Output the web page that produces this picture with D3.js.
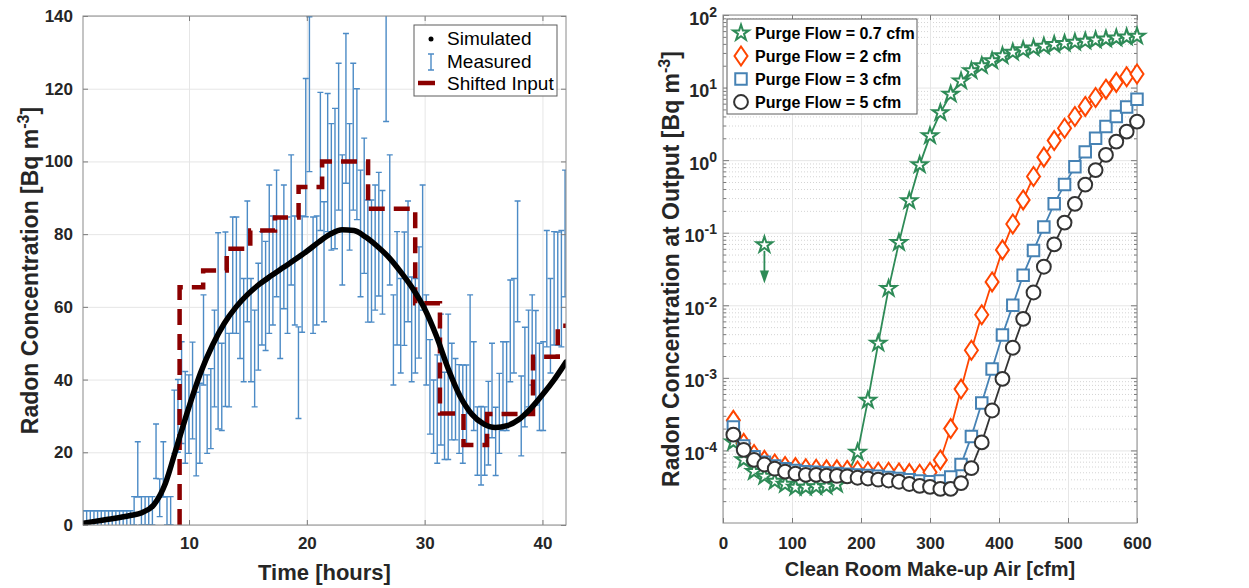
<!DOCTYPE html>
<html>
<head>
<meta charset="utf-8">
<script src="https://cdn.jsdelivr.net/npm/d3@7"></script>
<style>
  body { margin: 0; background: #fff; }
  svg { font-family: "Liberation Sans", Arial, Helvetica, sans-serif; }
  .axis text { font-size: 17px; font-weight: bold; fill: #262626; }
  .axis line { stroke: #7a7a7a; }
  .axis .domain { display: none; }
  .grid line { stroke: #e6e6e6; }
  .grid .domain { display: none; }
  .grid-minor line { stroke: #d4d4d4; stroke-dasharray: 1,2; }
  .grid-minor .domain { display: none; }
</style>
</head>
<body>
<div id="chart"></div>
<script>
// ---- left panel: radon time series ----
const simHours = [1, 2, 3, 4, 5, 6, 7, 8, 9, 10, 11, 12, 13, 14, 15, 16, 17, 18, 19, 20, 21,
  22, 23, 24, 25, 26, 27, 28, 29, 30, 31, 32, 33, 34, 35, 36, 37, 38, 39, 40, 41, 42];
const simValues = [0.5, 1.0, 1.5, 2.0, 2.6, 3.4, 5.5, 11.5, 22, 32.5, 42, 49.5, 55.5, 60, 63.5,
  66.3, 68.6, 70.8, 73, 75.3, 77.8, 80, 81.2, 81, 79.2, 76.6, 73.5, 69.5, 65, 59.5, 52, 43,
  35.5, 30.5, 27.8, 26.8, 27.3, 29, 32, 35.8, 40, 44.8];

// measurements every ~0.31 h starting at hour 1
const measStart = 1;
const measStep = 0.31;
const measValues = [
  0, 0, 0, 0, 0, 0, 0, 0, 0, 0,
  0, 0, 0, 0, 3.9, 15.3, 3.9, 3.9, 3.9, 3.9,
  20.3, 7.5, 15.3, 3.9, 3.9, 28.4, 30, 36.4, 29.6, 30.5,
  37, 25, 28, 50.9, 30.5, 32, 45.8, 53.4, 38, 56.6,
  42.6, 68.7, 68.7, 60.9, 53.6, 72.5, 53.6, 45.8, 57.3, 65.1,
  63, 73.1, 70, 80.2, 65.3, 76.5, 68.7, 83.9, 70, 41.9,
  69, 103.8, 118.5, 68.7, 70, 100, 72.4, 99.7, 93, 95.3,
  106.8, 83.9, 114.6, 93, 106.8, 102, 80.2, 87.8, 72.6, 72.6,
  76.3, 80, 75, 131, 83.9, 50.9, 65.1, 54.8, 65, 72.5,
  53.8, 54.8, 61.2, 76.3, 50.9, 38, 29.8, 31.9, 40, 30,
  38, 36.7, 34.6, 31.9, 30.5, 33.2, 47, 38.2, 23.1, 21.8,
  23.1, 28, 37, 23, 30.7, 38.2, 38.2, 53.4, 54.8, 72.5,
  30, 40.7, 45.8, 50.9, 46, 38, 38.2, 65, 54.8, 65.1,
  65, 65, 80.2];
const measErrors = [
  3.9, 3.9, 3.9, 3.9, 3.9, 3.9, 3.9, 3.9, 3.9, 3.9,
  3.9, 3.9, 3.9, 3.9, 3.9, 7.6, 3.9, 3.9, 3.9, 3.9,
  7.5, 5.2, 7.6, 3.9, 3.9, 8.7, 10, 14, 12.6, 10.8,
  13.3, 11.5, 11, 12.4, 10.8, 11, 13.3, 27, 12, 24,
  10.1, 16, 16, 15.1, 14.2, 16.6, 14.2, 13.3, 14.7, 15.6,
  15, 20.4, 15, 17.4, 19.5, 17, 16, 17.9, 15, 12.6,
  16, 19, 21.3, 16, 15, 19, 16.5, 19, 17.4, 19.3,
  20.2, 17.9, 20.6, 17.4, 20.2, 18, 17.4, 18.6, 16.8, 16.8,
  17.2, 17, 17, 20, 17.9, 12.4, 15.6, 13, 15.6, 16.6,
  14.4, 13, 15.3, 17.2, 12.4, 13, 10.1, 14.9, 18, 12,
  20, 13.3, 11.2, 12.2, 13.5, 10.8, 16.3, 12.2, 9.4, 10.8,
  9.4, 11.5, 13, 9.4, 11, 12.2, 12.2, 14, 13, 16.6,
  11, 13.7, 13.3, 12.4, 13, 12, 12.2, 16, 13, 15.6,
  15.6, 16, 17.4];

// shifted input: step changes (hour, new level)
const inputTimes = [9.2, 11.2, 13.2, 15.2, 17.3, 19.3, 21.3, 25.2, 29.2, 31.3, 33.3, 35.3, 39.2, 41.3];
const inputLevels = [65.4, 70, 76, 81, 84.6, 93, 100, 87, 61, 30.7, 22, 30.5, 46.3, 54.8];

const xTicksL = [10, 20, 30, 40];
const yTicksL = [0, 20, 40, 60, 80, 100, 120, 140];

// ---- right panel: radon vs make-up air ----
const airflow = [15, 30, 45, 60, 75, 90, 105, 120, 135, 150, 165, 180, 195, 210, 225, 240, 255,
  270, 285, 300, 315, 330, 345, 360, 375, 390, 405, 420, 435, 450, 465, 480, 495, 510, 525, 540,
  555, 570, 585, 600];
const purge07 = [1.3e-4, 7.4e-5, 5.1e-5, 4.4e-5, 3.75e-5, 3.4e-5, 3.1e-5, 3.1e-5, 3.15e-5, 3.2e-5,
  3.4e-5, 4.6e-5, 9.4e-5, 4.9e-4, 3.0e-3, 1.7e-2, 7.3e-2, 0.275, 0.86, 2.16, 4.5, 8.1, 12.3, 17,
  20, 23.3, 27.3, 30.6, 33, 35, 37, 39, 40.5, 42, 43.5, 45, 46.5, 48, 49.5, 51];
const purge2 = [2.6e-4, 1.25e-4, 8.8e-5, 7.3e-5, 6.5e-5, 6.0e-5, 5.8e-5, 5.6e-5, 5.5e-5, 5.4e-5,
  5.4e-5, 5.3e-5, 5.2e-5, 5.1e-5, 5.0e-5, 5.0e-5, 4.9e-5, 4.8e-5, 4.7e-5, 5.0e-5, 7.4e-5, 2.0e-4,
  7e-4, 2.4e-3, 7.4e-3, 2.1e-2, 5.8e-2, 0.132, 0.283, 0.594, 1.1, 1.86, 2.75, 4.0, 5.5, 7.3, 9.5,
  11.8, 14.1, 15.4];
const purge3 = [2.1e-4, 1.15e-4, 8.2e-5, 6.9e-5, 6.1e-5, 5.6e-5, 5.3e-5, 5.1e-5, 5.0e-5, 4.9e-5,
  4.8e-5, 4.7e-5, 4.6e-5, 4.5e-5, 4.4e-5, 4.25e-5, 4.1e-5, 3.95e-5, 3.8e-5, 3.7e-5, 3.8e-5, 4.3e-5,
  6.4e-5, 1.56e-4, 4.5e-4, 1.32e-3, 3.9e-3, 1.0e-2, 2.6e-2, 5.7e-2, 0.12, 0.25, 0.46, 0.81, 1.3,
  2.0, 2.9, 4.0, 5.4, 6.9];
const purge5 = [1.65e-4, 1.02e-4, 7.4e-5, 6.4e-5, 5.6e-5, 5.1e-5, 4.8e-5, 4.6e-5, 4.6e-5, 4.5e-5,
  4.45e-5, 4.4e-5, 4.2e-5, 4.1e-5, 3.95e-5, 3.85e-5, 3.7e-5, 3.45e-5, 3.25e-5, 3.15e-5, 2.95e-5,
  2.95e-5, 3.55e-5, 5.7e-5, 1.29e-4, 3.55e-4, 9.7e-4, 2.6e-3, 6.5e-3, 1.5e-2, 3.4e-2, 6.9e-2,
  0.138, 0.25, 0.46, 0.73, 1.18, 1.8, 2.47, 3.4];
const purgeLabels = ['Purge Flow = 0.7 cfm', 'Purge Flow = 2 cfm', 'Purge Flow = 3 cfm', 'Purge Flow = 5 cfm'];
const limitPoint = { x: 60, y: 0.068, arrowTo: 0.02 };

const xTicksR = [0, 100, 200, 300, 400, 500, 600];
const yTicksR = [1e-4, 1e-3, 1e-2, 1e-1, 1, 10, 100];

// ---------------------------------------------------------------
const svg = d3.select('#chart').append('svg')
  .attr('width', 1249)
  .attr('height', 588);

const defs = svg.append('defs');

function drawLeft() {
  const box = { left: 83, top: 16, right: 566, bottom: 525 };
  const W = box.right - box.left;
  const H = box.bottom - box.top;
  const g = svg.append('g').attr('transform', `translate(${box.left},${box.top})`);

  const x = d3.scaleLinear().domain([1, 42]).range([0, W]);
  const y = d3.scaleLinear().domain([0, 140]).range([H, 0]);

  defs.append('clipPath').attr('id', 'clipL')
    .append('rect').attr('width', W).attr('height', H);

  // grid
  g.append('g').attr('class', 'grid').attr('transform', `translate(0,${H})`)
    .call(d3.axisBottom(x).tickValues(xTicksL).tickSize(-H).tickFormat(''));
  g.append('g').attr('class', 'grid')
    .call(d3.axisLeft(y).tickValues(yTicksL).tickSize(-W).tickFormat(''));

  const plot = g.append('g').attr('clip-path', 'url(#clipL)');

  // measured error bars
  const meas = measValues.map((v, i) => ({ t: measStart + i * measStep, v, e: measErrors[i] }));
  plot.append('g')
    .attr('fill', 'none')
    .attr('stroke', '#4c8bc6')
    .attr('stroke-width', 1.4)
    .selectAll('path')
    .data(meas)
    .join('path')
    .attr('d', (d) => {
      const cx = x(d.t);
      const lo = y(d.v - d.e);
      const hi = y(d.v + d.e);
      return `M${cx},${lo}V${hi}M${cx - 3},${lo}H${cx + 3}M${cx - 3},${hi}H${cx + 3}`;
    });

  // shifted input (stepped)
  const steps = [{ t: inputTimes[0], v: 0 }]
    .concat(inputTimes.map((t, i) => ({ t, v: inputLevels[i] })))
    .concat([{ t: 42, v: inputLevels[inputLevels.length - 1] }]);
  plot.append('path')
    .datum(steps)
    .attr('fill', 'none')
    .attr('stroke', '#8b0000')
    .attr('stroke-width', 4.5)
    .attr('stroke-dasharray', '16,9')
    .attr('d', d3.line().curve(d3.curveStepAfter).x((d) => x(d.t)).y((d) => y(d.v)));

  // simulated
  plot.append('path')
    .datum(simHours.map((t, i) => ({ t, v: simValues[i] })))
    .attr('fill', 'none')
    .attr('stroke', '#000')
    .attr('stroke-width', 5.5)
    .attr('stroke-linejoin', 'round')
    .attr('stroke-linecap', 'round')
    .attr('d', d3.line().curve(d3.curveMonotoneX).x((d) => x(d.t)).y((d) => y(d.v)));

  // axes
  g.append('g').attr('class', 'axis').attr('transform', `translate(0,${H})`)
    .call(d3.axisBottom(x).tickValues(xTicksL).tickSize(-5).tickPadding(12));
  g.append('g').attr('class', 'axis')
    .call(d3.axisTop(x).tickValues(xTicksL).tickSize(-5).tickFormat(''));
  g.append('g').attr('class', 'axis')
    .call(d3.axisLeft(y).tickValues(yTicksL).tickSize(-5).tickPadding(10));
  g.append('g').attr('class', 'axis').attr('transform', `translate(${W},0)`)
    .call(d3.axisRight(y).tickValues(yTicksL).tickSize(-5).tickFormat(''));

  g.append('rect')
    .attr('width', W).attr('height', H)
    .attr('fill', 'none').attr('stroke', '#8a8a8a').attr('stroke-width', 1);

  // labels
  svg.append('text')
    .attr('x', (box.left + box.right) / 2).attr('y', 580)
    .attr('text-anchor', 'middle')
    .attr('font-size', 22).attr('font-weight', 'bold').attr('fill', '#262626')
    .text('Time [hours]');

  const yl = svg.append('text')
    .attr('transform', `translate(38,${(box.top + box.bottom) / 2}) rotate(-90)`)
    .attr('text-anchor', 'middle')
    .attr('font-size', 23).attr('font-weight', 'bold').attr('fill', '#262626');
  yl.append('tspan').text('Radon Concentration [Bq m');
  yl.append('tspan').attr('dy', -9).attr('font-size', 16).text('-3');
  yl.append('tspan').attr('dy', 9).text(']');

  // legend
  const lg = svg.append('g').attr('transform', 'translate(414,25)');
  lg.append('rect').attr('width', 143).attr('height', 71)
    .attr('fill', '#fff').attr('stroke', '#5c5c5c').attr('stroke-width', 1);
  lg.append('circle').attr('cx', 17).attr('cy', 14).attr('r', 2.5).attr('fill', '#000');
  lg.append('path').attr('d', 'M17,29V45M14,29H20M14,45H20')
    .attr('stroke', '#4c8bc6').attr('stroke-width', 1.4).attr('fill', 'none');
  lg.append('path').attr('d', 'M4,58H21')
    .attr('stroke', '#8b0000').attr('stroke-width', 4.5);
  const labels = ['Simulated', 'Measured', 'Shifted Input'];
  lg.selectAll('text.lbl').data(labels).join('text')
    .attr('class', 'lbl')
    .attr('x', 33).attr('y', (d, i) => 20 + i * 22.5)
    .attr('font-size', 19).attr('fill', '#000')
    .text((d) => d);
}

function diamondPath(w, h) {
  return `M0,${-h}L${w},0L0,${h}L${-w},0Z`;
}

function drawRight() {
  const box = { left: 723, top: 15, right: 1137, bottom: 523 };
  const W = box.right - box.left;
  const H = box.bottom - box.top;
  const g = svg.append('g').attr('transform', `translate(${box.left},${box.top})`);

  const x = d3.scaleLinear().domain([0, 600]).range([0, W]);
  const y = d3.scaleLog().domain([1e-5, 1e2]).range([H, 0]);
  const yMinor = y.ticks().filter((v) => !yTicksR.includes(v) && v > 1e-5 && v < 1e2);

  // grid
  g.append('g').attr('class', 'grid-minor')
    .call(d3.axisLeft(y).tickValues(yMinor).tickSize(-W).tickFormat(''));
  g.append('g').attr('class', 'grid').attr('transform', `translate(0,${H})`)
    .call(d3.axisBottom(x).tickValues(xTicksR).tickSize(-H).tickFormat(''));
  g.append('g').attr('class', 'grid')
    .call(d3.axisLeft(y).tickValues(yTicksR).tickSize(-W).tickFormat(''));

  // axes
  g.append('g').attr('class', 'axis').attr('transform', `translate(0,${H})`)
    .call(d3.axisBottom(x).tickValues(xTicksR).tickSize(-5).tickPadding(14));
  g.append('g').attr('class', 'axis')
    .call(d3.axisTop(x).tickValues(xTicksR).tickSize(-5).tickFormat(''));
  const yAx = g.append('g').attr('class', 'axis')
    .call(d3.axisLeft(y).tickValues(yTicksR).tickSize(-6).tickPadding(6).tickFormat(''));
  yAx.selectAll('.tick text').each(function (d) {
    const t = d3.select(this).attr('dy', null).attr('y', 9).style('font-size', '18px');
    t.append('tspan').text('10');
    t.append('tspan').attr('dy', -8).style('font-size', '14px').text(Math.round(Math.log10(d)));
  });
  g.append('g').attr('class', 'axis')
    .call(d3.axisLeft(y).tickValues(yMinor).tickSize(-3).tickFormat(''));
  g.append('g').attr('class', 'axis').attr('transform', `translate(${W},0)`)
    .call(d3.axisRight(y).tickValues(yTicksR).tickSize(-6).tickFormat(''));
  g.append('g').attr('class', 'axis').attr('transform', `translate(${W},0)`)
    .call(d3.axisRight(y).tickValues(yMinor).tickSize(-3).tickFormat(''));

  g.append('rect')
    .attr('width', W).attr('height', H)
    .attr('fill', 'none').attr('stroke', '#8a8a8a').attr('stroke-width', 1);

  // series
  const starPath = d3.symbol(d3.symbolStar, 78)();
  const series = [
    { values: purge07, color: '#2e8b57', marker: starPath },
    { values: purge2, color: '#ff4500', marker: diamondPath(6.5, 9.5) },
    { values: purge3, color: '#4682b4', marker: d3.symbol(d3.symbolSquare, 132)() },
    { values: purge5, color: '#333333', marker: d3.symbol(d3.symbolCircle, 150)() },
  ];
  const line = d3.line().x((d) => x(d.x)).y((d) => y(d.y));

  series.forEach((s) => {
    const pts = airflow.map((a, i) => ({ x: a, y: s.values[i] }));
    const sg = g.append('g');
    sg.append('path').datum(pts)
      .attr('fill', 'none').attr('stroke', s.color).attr('stroke-width', 1.8)
      .attr('d', line);
    sg.selectAll('path.mk').data(pts).join('path')
      .attr('class', 'mk')
      .attr('transform', (d) => `translate(${x(d.x)},${y(d.y)})`)
      .attr('d', s.marker)
      .attr('fill', '#fff')
      .attr('stroke', s.color)
      .attr('stroke-width', 2);
  });

  // upper-limit marker with arrow
  const lx = x(limitPoint.x);
  const ly = y(limitPoint.y);
  const tip = y(limitPoint.arrowTo);
  g.append('path')
    .attr('d', `M${lx},${ly + 6}V${tip - 12}`)
    .attr('stroke', '#2e8b57').attr('stroke-width', 1.8);
  g.append('path')
    .attr('d', `M${lx - 4.5},${tip - 13}L${lx + 4.5},${tip - 13}L${lx},${tip}Z`)
    .attr('fill', '#2e8b57');
  g.append('path')
    .attr('transform', `translate(${lx},${ly})`)
    .attr('d', starPath)
    .attr('fill', '#fff').attr('stroke', '#2e8b57').attr('stroke-width', 2);

  // labels
  svg.append('text')
    .attr('x', (box.left + box.right) / 2).attr('y', 576)
    .attr('text-anchor', 'middle')
    .attr('font-size', 20).attr('font-weight', 'bold').attr('fill', '#262626')
    .text('Clean Room Make-up Air [cfm]');

  const yl = svg.append('text')
    .attr('transform', `translate(679,${(box.top + box.bottom) / 2}) rotate(-90)`)
    .attr('text-anchor', 'middle')
    .attr('font-size', 23).attr('font-weight', 'bold').attr('fill', '#262626');
  yl.append('tspan').text('Radon Concentration at Output [Bq m');
  yl.append('tspan').attr('dy', -9).attr('font-size', 16).text('-3');
  yl.append('tspan').attr('dy', 9).text(']');

  // legend
  const lg = svg.append('g').attr('transform', 'translate(727,19)');
  lg.append('rect').attr('width', 190).attr('height', 95)
    .attr('fill', '#fff').attr('stroke', '#5c5c5c').attr('stroke-width', 1);
  series.forEach((s, i) => {
    lg.append('path')
      .attr('transform', `translate(14,${14 + i * 23})`)
      .attr('d', s.marker)
      .attr('fill', '#fff').attr('stroke', s.color).attr('stroke-width', 2);
    lg.append('text')
      .attr('x', 28).attr('y', 20 + i * 23)
      .attr('font-size', 16).attr('font-weight', 'bold').attr('fill', '#000')
      .text(purgeLabels[i]);
  });
}

drawLeft();
drawRight();
</script>
</body>
</html>
